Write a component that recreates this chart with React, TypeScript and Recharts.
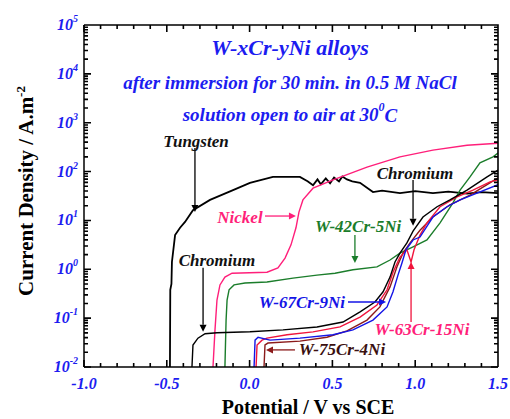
import React from "react";
import { LineChart, Line, XAxis, YAxis, ReferenceLine, ReferenceDot } from "recharts";

// potential (V vs SCE) and log10 of current density (A/m2)
const tungstenV = [-0.481, -0.479, -0.472, -0.469, -0.45, -0.42, -0.39, -0.342, -0.239, -0.1, 0.002, 0.141, 0.304, 0.35, 0.383, 0.41, 0.43, 0.46, 0.486, 0.51, 0.54, 0.56, 0.588, 0.62, 0.667, 0.745, 0.8, 0.908, 1.0, 1.107, 1.2, 1.313, 1.4, 1.5];
const tungstenLog = [-2, -0.42, -0.3, 0.15, 0.7, 0.85, 0.97, 1.21, 1.42, 1.62, 1.77, 1.89, 1.89, 1.8, 1.72, 1.84, 1.74, 1.86, 1.76, 1.88, 1.8, 1.9, 1.84, 1.8, 1.77, 1.58, 1.61, 1.56, 1.6, 1.56, 1.59, 1.55, 1.58, 1.56];

const chromiumV = [-0.348, -0.342, -0.312, -0.269, -0.197, 0.002, 0.202, 0.407, 0.564, 0.667, 0.757, 0.806, 0.848, 0.878, 0.908, 0.95, 0.987, 1.047, 1.132, 1.21, 1.313, 1.434, 1.5];
const chromiumLog = [-2, -1.55, -1.41, -1.32, -1.3, -1.28, -1.24, -1.18, -1.08, -0.87, -0.67, -0.46, -0.16, 0.15, 0.33, 0.54, 0.78, 1.07, 1.28, 1.42, 1.62, 1.89, 2.03];

const nickelV = [-0.221, -0.209, -0.197, -0.179, -0.149, -0.106, 0.105, 0.171, 0.214, 0.25, 0.28, 0.298, 0.322, 0.383, 0.504, 0.709, 0.908, 1.107, 1.313, 1.5];
const nickelLog = [-2, -1.24, -0.63, -0.32, -0.16, -0.08, -0.06, 0.03, 0.23, 0.5, 0.85, 1.17, 1.42, 1.66, 1.83, 2.09, 2.3, 2.44, 2.54, 2.58];

const w42V = [-0.149, -0.142, -0.136, -0.124, -0.094, -0.028, 0.105, 0.262, 0.407, 0.516, 0.624, 0.769, 0.848, 0.908, 0.987, 1.071, 1.15, 1.228, 1.271, 1.331, 1.391, 1.47, 1.5];
const w42Log = [-2, -1.04, -0.63, -0.42, -0.32, -0.28, -0.26, -0.18, -0.12, -0.08, -0.01, 0.05, 0.19, 0.33, 0.46, 0.6, 0.95, 1.36, 1.62, 1.89, 2.18, 2.3, 2.38];

const w67V = [0.027, 0.033, 0.051, 0.123, 0.304, 0.504, 0.624, 0.745, 0.83, 0.866, 0.896, 0.92, 0.944, 0.987, 1.029, 1.107, 1.192, 1.271, 1.373, 1.5];
const w67Log = [-2, -1.45, -1.39, -1.45, -1.41, -1.34, -1.24, -1.04, -0.77, -0.46, -0.12, 0.13, 0.4, 0.6, 0.66, 1.07, 1.28, 1.42, 1.56, 1.73];

const w63V = [0.039, 0.045, 0.075, 0.105, 0.226, 0.383, 0.546, 0.667, 0.769, 0.83, 0.866, 0.908, 0.95, 0.975, 0.993, 1.029, 1.071, 1.15, 1.253, 1.349, 1.452, 1.5];
const w63Log = [-2, -1.55, -1.45, -1.41, -1.34, -1.28, -1.18, -0.98, -0.73, -0.42, -0.06, 0.25, 0.4, 0.15, 0.4, 0.7, 0.95, 1.28, 1.48, 1.62, 1.79, 1.83];

const w75V = [0.087, 0.093, 0.111, 0.304, 0.467, 0.588, 0.709, 0.787, 0.848, 0.89, 0.926, 0.969, 1.029, 1.107, 1.21, 1.331, 1.5];
const w75Log = [-2, -1.55, -1.51, -1.47, -1.39, -1.26, -1.04, -0.77, -0.36, 0.05, 0.33, 0.54, 0.8, 1.07, 1.32, 1.52, 1.87];

const xMajor = [-1, -0.5, 0, 0.5, 1, 1.5];
const yMajor = [-2, -1, 0, 1, 2, 3, 4, 5];

const xMinor: number[] = [];
for (let k = -10; k <= 15; k++) if (k % 5 !== 0) xMinor.push(k / 10);
const yMinor: number[] = [];
for (let d = -2; d < 5; d++) for (let m = 2; m <= 9; m++) yMinor.push(d + Math.log10(m));

const toPoints = (v: number[], l: number[]) => v.map((x, i) => ({ v: x, i: l[i] }));

const series = [
  { name: "Tungsten", color: "#000000", width: 1.8, data: toPoints(tungstenV, tungstenLog) },
  { name: "Nickel", color: "#ff1f7a", width: 1.4, data: toPoints(nickelV, nickelLog) },
  { name: "W-42Cr-5Ni", color: "#1b7d2b", width: 1.4, data: toPoints(w42V, w42Log) },
  { name: "W-75Cr-4Ni", color: "#8b1a1a", width: 1.4, data: toPoints(w75V, w75Log) },
  { name: "W-63Cr-15Ni", color: "#f0143c", width: 1.4, data: toPoints(w63V, w63Log) },
  { name: "W-67Cr-9Ni", color: "#1414e6", width: 1.4, data: toPoints(w67V, w67Log) },
  { name: "Chromium", color: "#000000", width: 1.4, data: toPoints(chromiumV, chromiumLog) },
];

// annotation texts and arrows, in data coordinates
const notes = [
  { text: "Tungsten", v: -0.324, l: 2.61, color: "#111111" },
  { text: "Nickel", v: -0.058, l: 1.07, color: "#ff1f7a" },
  { text: "Chromium", v: 0.999, l: 1.97, color: "#111111" },
  { text: "W-42Cr-5Ni", v: 0.655, l: 0.87, color: "#1b7d2b" },
  { text: "Chromium", v: -0.197, l: 0.19, color: "#111111" },
  { text: "W-67Cr-9Ni", v: 0.316, l: -0.67, color: "#1414e6" },
  { text: "W-63Cr-15Ni", v: 1.041, l: -1.24, color: "#ff1f7a" },
  { text: "W-75Cr-4Ni", v: 0.558, l: -1.65, color: "#3a1010" },
];
const arrows = [
  { from: [-0.33, 2.48], to: [-0.33, 1.17], color: "#000000" },
  { from: [0.093, 1.09], to: [0.28, 1.09], color: "#ff1f7a" },
  { from: [0.987, 1.83], to: [0.987, 0.89], color: "#000000" },
  { from: [0.636, 0.7], to: [0.636, 0.13], color: "#1b7d2b" },
  { from: [-0.281, 0.03], to: [-0.281, -1.28], color: "#000000" },
  { from: [0.594, -0.67], to: [0.824, -0.67], color: "#1414e6" },
  { from: [0.975, -1.08], to: [0.975, 0.15], color: "#f0143c" },
  { from: [0.274, -1.65], to: [0.099, -1.65], color: "#8b1a1a" },
];

const W = 510;
const H = 419;
const M = { top: 25, right: 12, left: 44, bottom: 22 };
const Y_AXIS_W = 40;
const X_AXIS_H = 30;
const X_DOMAIN = [-1, 1.5];
const Y_DOMAIN = [-2, 5];
// plot box, matching the chart's margins and axis sizes (for the frame ticks)
const plotL = M.left + Y_AXIS_W;
const plotR = W - M.right;
const plotT = M.top;
const plotB = H - M.bottom - X_AXIS_H;
const px = (v: number) => plotL + ((v - X_DOMAIN[0]) / (X_DOMAIN[1] - X_DOMAIN[0])) * (plotR - plotL);
const py = (l: number) => plotB - ((l - Y_DOMAIN[0]) / (Y_DOMAIN[1] - Y_DOMAIN[0])) * (plotB - plotT);

const serif = "'Liberation Serif', 'Times New Roman', serif";
const blue = "#1c1cf0";

const XTick = ({ x, y, payload }: any) => (
  <text x={x} y={y + 16} textAnchor="middle" dominantBaseline="central" fontFamily={serif}
    fontWeight="bold" fontStyle="italic" fontSize={16} fill={blue}>
    {payload.value.toFixed(1)}
  </text>
);

const YTick = ({ x, y, payload }: any) => (
  <text x={x - 6} y={y + 5} textAnchor="end" fontFamily={serif} fontWeight="bold"
    fontStyle="italic" fontSize={16} fill={blue}>
    10<tspan dy={-8} fontSize={10}>{payload.value}</tspan>
  </text>
);

const arrowShape = (color: string) => (p: any) => {
  const { x1, y1, x2, y2 } = p;
  const a = Math.atan2(y2 - y1, x2 - x1);
  const s = 7;
  const w = 3.5;
  const bx = x2 - s * Math.cos(a);
  const by = y2 - s * Math.sin(a);
  const ox = -Math.sin(a) * w;
  const oy = Math.cos(a) * w;
  return (
    <g>
      <line x1={x1} y1={y1} x2={bx} y2={by} stroke={color} strokeWidth={1.3} />
      <polygon points={`${x2},${y2} ${bx + ox},${by + oy} ${bx - ox},${by - oy}`} fill={color} />
    </g>
  );
};

const noteShape = (text: string, color: string) => (p: any) => (
  <text x={p.cx} y={p.cy} textAnchor="middle" dominantBaseline="central" fontFamily={serif}
    fontWeight="bold" fontStyle="italic" fontSize={17} fill={color}>
    {text}
  </text>
);

const titleShape = (lines: React.ReactNode, size: number) => (p: any) => (
  <text x={p.cx} y={p.cy} textAnchor="middle" dominantBaseline="central" fontFamily={serif}
    fontWeight="bold" fontStyle="italic" fontSize={size} fill={blue}>
    {lines}
  </text>
);

const seg = (x1: number, y1: number, x2: number, y2: number) => [{ x: x1, y: y1 }, { x: x2, y: y2 }];

// frame and inward tick marks as one path
const framePathD = () => {
  let d = `M${plotL},${plotT} H${plotR} V${plotB} `;
  const xs = [...xMajor.map((v) => [v, 7]), ...xMinor.map((v) => [v, 4])];
  xs.forEach(([v, len]) => {
    const x = px(v);
    d += `M${x},${plotB} V${plotB - len} M${x},${plotT} V${plotT + len} `;
  });
  const ys = [...yMajor.map((l) => [l, 7]), ...yMinor.map((l) => [l, 4])];
  ys.forEach(([l, len]) => {
    const y = py(l);
    d += `M${plotL},${y} H${plotL + len} M${plotR},${y} H${plotR - len} `;
  });
  return d;
};

export default function App() {
  return (
    <div style={{ position: "absolute", left: 0, top: 0, width: W, height: H, background: "#fff" }}>
      <LineChart width={W} height={H} margin={M}>
        <XAxis xAxisId="x" type="number" dataKey="v" domain={X_DOMAIN} ticks={xMajor} interval={0}
          tickSize={0} tickMargin={0} tickLine={false} height={X_AXIS_H} tick={<XTick />}
          axisLine={{ stroke: "#000", strokeWidth: 1.5 }} allowDataOverflow />
        <YAxis yAxisId="y" type="number" dataKey="i" domain={Y_DOMAIN} ticks={yMajor} interval={0}
          width={Y_AXIS_W} tickSize={0} tickMargin={0} tickLine={false} tick={<YTick />}
          axisLine={{ stroke: "#000", strokeWidth: 1.5 }} allowDataOverflow />

        {series.map((s) => (
          <Line key={s.name} xAxisId="x" yAxisId="y" data={s.data} dataKey="i" type="linear"
            stroke={s.color} strokeWidth={s.width} dot={false} isAnimationActive={false} />
        ))}

        {arrows.map((a, k) => (
          <ReferenceLine key={"a" + k} xAxisId="x" yAxisId="y"
            segment={seg(a.from[0], a.from[1], a.to[0], a.to[1])}
            shape={arrowShape(a.color)} />
        ))}
        {notes.map((n, k) => (
          <ReferenceDot key={"n" + k} xAxisId="x" yAxisId="y" x={n.v} y={n.l} r={1}
            shape={noteShape(n.text, n.color)} />
        ))}
        <ReferenceDot xAxisId="x" yAxisId="y" x={0.244} y={4.53} r={1}
          shape={titleShape("W-xCr-yNi alloys", 22)} />
        <ReferenceDot xAxisId="x" yAxisId="y" x={0.244} y={3.83} r={1}
          shape={titleShape("after immersion for 30 min. in 0.5 M NaCl", 19)} />
        <ReferenceDot xAxisId="x" yAxisId="y" x={0.244} y={3.16} r={1}
          shape={titleShape(<>solution open to air at 30<tspan dy={-8} fontSize={12}>0</tspan><tspan dy={8}>C</tspan></>, 19)} />
      </LineChart>
      <svg width={W} height={H} style={{ position: "absolute", left: 0, top: 0, zIndex: 2, display: "block", pointerEvents: "none" }}>
        <path d={framePathD()} fill="none" stroke="#000" strokeWidth={1.6} />
        <text x={308} y={407} textAnchor="middle" dominantBaseline="central" fontFamily={serif}
          fontWeight="bold" fontSize={20} fill="#000">
          Potential / V vs SCE
        </text>
        <text x={0} y={0} transform="translate(33,191) rotate(-90)" textAnchor="middle" fontFamily={serif}
          fontWeight="bold" fontSize={21} fill="#000">
          Current Density / A.m<tspan dy={-8} fontSize={13}>-2</tspan>
        </text>
      </svg>
    </div>
  );
}
